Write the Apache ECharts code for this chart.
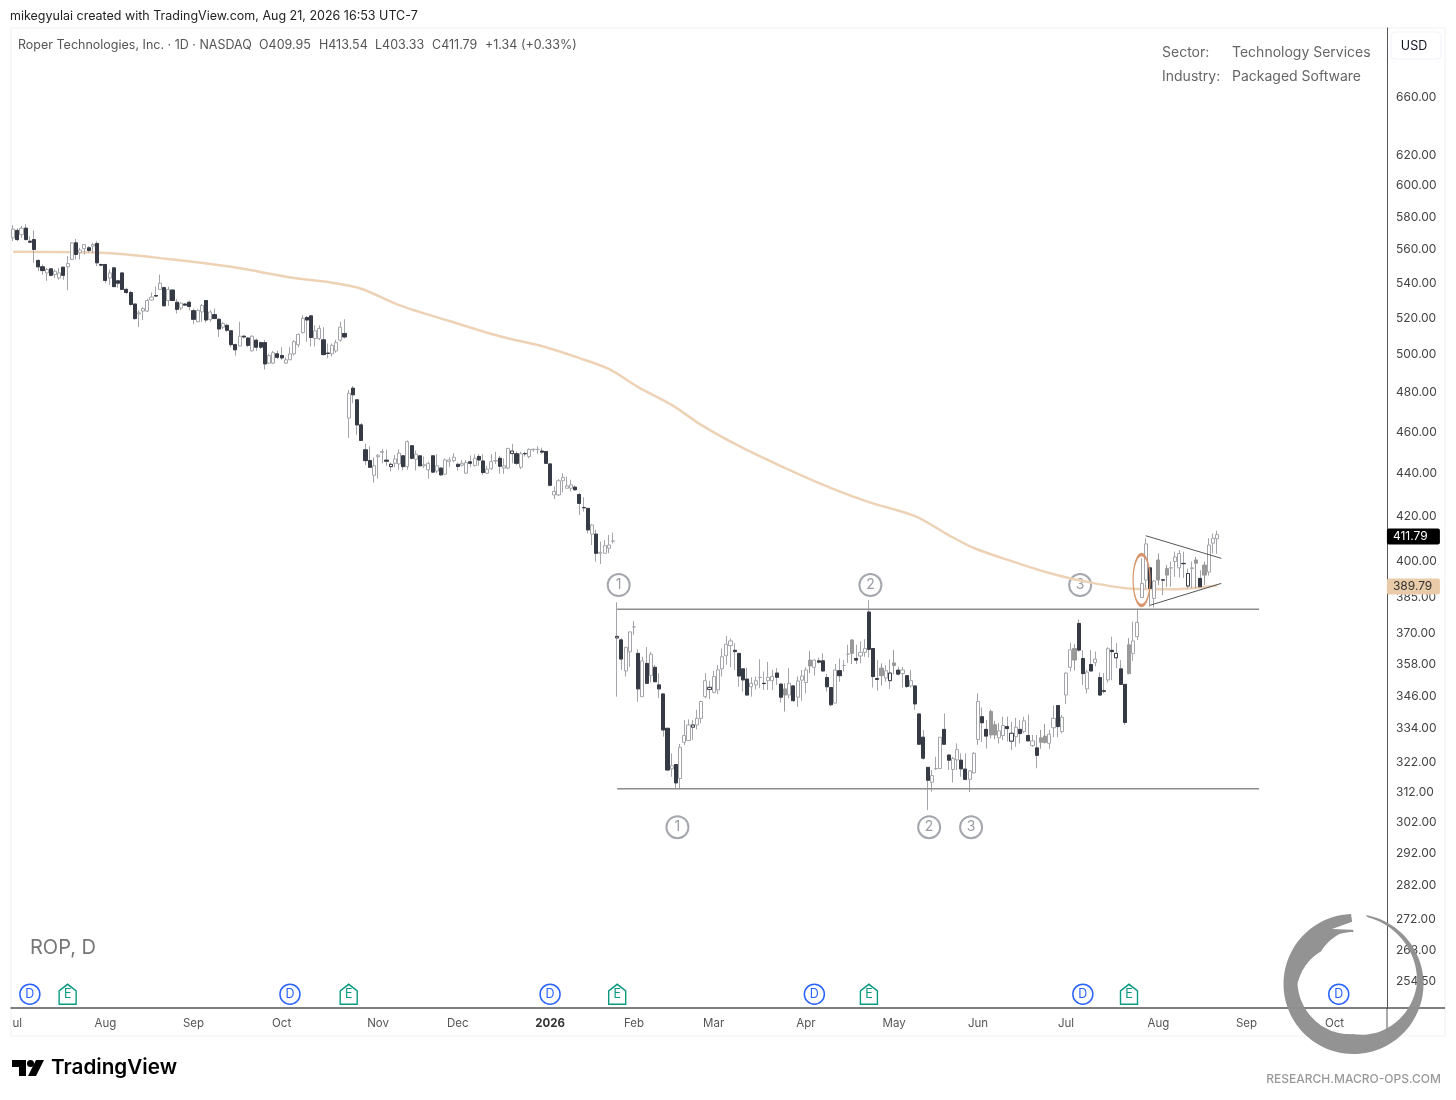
<!DOCTYPE html>
<html><head><meta charset="utf-8">
<style>html,body{margin:0;padding:0;background:#fff}#c{width:1456px;height:1100px}</style>
<script src="https://cdn.jsdelivr.net/npm/echarts@6/dist/echarts.min.js"></script>
</head><body><div id="c"></div>
<script>
// [open, close, low, high]
const barsSummer2025 = [
[567,572.4,565,575],[571.6,566,565,573],[569,573,567,574.4],[573,566,565.6,575.4],[565,564.4,564.4,568],
[566,560,552,571.6],[553.4,549.6,547,554],[549.6,547.4,545,551],[546,548,541.4,549],[548.4,544.6,544,549],
[545,547,543,548],[543,546,542,549],[549.4,544.6,542,549.4],[549.6,551.6,536,556],[554,564,554,564.5],
[564,557,554,566.4],[558,559.6,554,561],[560.4,563,557,563],[561,559.4,558,562],[562,563,558,564],
[563.6,552,550,565],[551,550.6,550,551.4],[551,541.6,540,551],[543,546,539,548],[549,538,538,549],
[541.4,540,537.4,542],[546,536.4,536,546],[536.4,534.6,533.6,537.4],[534.6,527.8,527,535.5],[528,519.8,519,528],
[522.4,523,515,524.4],[524,525.4,519,526.3],[524,530,523.5,531],[530.3,532,530,534.6],[532.8,532.6,532,538],
[536.4,540,536.4,545],[537.4,527,527,538],[530,536.4,527,538],[536,530,530,536.4],[529,525,522.6,531],
[525.7,528.5,524.4,529],[528,527.4,527,528.2],[529,526.6,524.4,530],[524.2,519.4,516.6,525.4],[518,524.4,518,525],
[523.5,527.2,518,528],[530,519,517.6,530],[519.2,523.5,518,524.4],[522,519.8,519.8,525.4],[519.4,514,509.6,519.8],
[515,517,514,518],[516,513.3,512.4,517],[513,505.4,504,513.3],[505.4,502.6,499.5,506],[504.6,510,504.6,518],
[510,509.6,508.7,510.5],[509,505,504,509.6],[502,510,501.7,510.5],[507.8,504,502,508.7],[506.5,504,503,507],
[506.5,495,492,508],[495.4,499.5,495,500.4],[495.4,501,495,502],[500.4,498.5,497.6,502.2],[499.5,498.2,497.2,504],
[495.4,497.2,495,498.5],[497.2,500.4,497.2,504],[500.4,507,499.5,507.8],[505.3,511,504,511.5],[512,520,511.5,521.6],
[520.4,519,507,521.3],[521.3,509.3,504.4,521.3],[508.7,513,504.4,516],[508.7,514.3,507.8,516],[508,500,499.5,515],
[500.8,500.6,498,506],[500.4,505,499,506],[502,506.5,501,508],[507.8,515,507,518],[511.5,509.6,508.7,519.4]];
const barsAutumn2025 = [
[466.9,479.6,457,481.3],[482.2,478.8,474.5,483.3],[476.2,463.5,458.6,476.2],[463.5,455.8,455.8,464.4],[451.2,446,443.9,454.2],
[446,442.8,442.8,452.9],[439,443.5,435.5,447.6],[447.9,448.6,437.4,449.1],[450,450.4,444.7,451.7],[446.2,445.7,443.5,451.2],
[443.1,444.2,440.8,445],[444.7,446.8,442.8,448.8],[444.4,449.6,441.6,451.5],[448.3,443.1,441.3,448.3],[443.1,455.2,441.6,455.8],
[453.2,447.1,446.6,453.2],[446.6,449.1,441.3,450.9],[448.3,443.5,443.2,448.3],[443.5,444,442.4,448],[441.6,444.7,437.4,445.5],
[448.3,440.5,440,448.3],[441,443.5,440,449.1],[442.4,439.2,438.7,442.8],[439.5,446.3,439.2,447],[445.5,446.3,442.8,447.6],
[446,447.6,445.2,449.6],[444.2,443.2,441.3,445],[443.8,444.7,443.2,446.3],[440,445,439.7,446.3],[445.4,444.7,442.8,448.5],
[443.6,447.1,443.2,449.1],[448,446.3,443.5,449.1],[445.8,440.3,439.2,449.1],[440,441.9,439.7,443.5],[442.1,445.5,441.6,449.1],
[445.8,446,444.4,450.3],[447.1,443.3,439.7,448.3],[442.4,443.5,439.7,447.1],[442.4,451.9,441.9,452.2],[449.4,450.6,444.7,454.2],
[449.3,444.7,443.9,450.3],[442.8,449.3,441.9,450.3],[449.4,449.3,448,450.3],[448,451.4,447.1,451.9],[451.2,451.5,450.3,451.9],
[451.4,451.4,449.3,453],[450.6,450.1,449.3,452.2],[450.4,444.7,444.7,450.4],[444.4,434.3,433.7,444.4],[429.8,431.4,427.9,433.7],
[429.8,436.4,429.3,437.2],[436.4,438,431,440],[432.9,434,432.9,438.4],[432.9,434.5,431.4,436.9],[433.4,432.2,431.8,434.2],
[430,425.9,420.6,430.8],[424,423.9,422.1,428.7],[423.6,413.9,412.4,423.6],[412,416.1,407.2,416.6],[412,403.6,399.9,414],
[403.6,404,398.9,408.7],[403.6,406.9,403.6,409.4],[405.8,407.2,403.6,411.6],[408.9,409,407.9,412.7]];
const barsWinterSpring2026 = [
[368.4,369,345.8,382.8],[367.6,360.1,355.9,368.3],[355.5,364.7,353.4,364.7],[362.9,370.8,357.1,370.8],[372.8,372.8,369.6,375.2],
[362.3,348.7,343.9,363.9],[345.8,359.4,345.8,361],[358.4,350.8,350.8,364.8],[353.7,362,351.1,362.9],[356.9,351.4,351.4,357.8],
[350.2,348.7,345.2,354.7],[346.8,333.6,331.2,346.8],[334.2,319.5,319.5,334.2],[319.9,321,317.2,325.3],[321.4,315.1,313.2,321.4],
[316.6,327.4,313.2,328.6],[329.2,331.6,328.2,337.2],[329.8,335.4,329.8,337.4],[334.6,335.4,330,337.2],[335.4,337.8,333.8,340.9],
[337.8,344,336,344.3],[345.8,351.8,345.2,354.7],[348.5,349.3,344.9,351.8],[347.4,353.4,347,355.6],[348.3,355.9,346.8,357.8],
[356.3,361,353.4,364.2],[361.4,365.9,357.9,369.2],[365.4,367.2,357,368.2],[363.5,363,355.9,366.3],[362.3,353.6,349.5,362.3],
[356.3,352.1,347.7,356.3],[352.4,346.4,346.4,356.7],[349.5,350.8,345.8,353.1],[350.2,351.8,348.5,353.4],[353,353.1,349,360],
[350.8,350.7,348.3,355.3],[351.8,353.1,348.3,359],[351.8,353.4,348.3,355.9],[354.7,353.1,350.2,356.6],[350.5,345.6,343.6,350.8],
[346.4,348.7,340.3,350.8],[346.4,350.8,345.2,356.6],[349.8,344.3,344,350.2],[345.6,351.7,342,353.4],[352,353.6,344.3,355.9],
[351.1,355.9,347,356.9],[357.4,359.7,354.7,363.2],[356.9,359.7,353.7,360],[359.4,358.9,358.4,360.7],[359.4,355.5,355.3,362.3],
[353,349.5,347.7,354.4],[349.2,342.8,342.2,349.2],[343.4,355.9,343.4,358.2],[355.6,353.7,351.4,360.3],[357.6,357.6,355.3,359.7],
[362,362,358.6,365.7],[362.3,367.6,358.2,367.9],[360.3,359.7,358.2,365.7],[361.3,362.7,358.4,367],[362.7,364.2,361,367.9],
[378.8,363.9,360.7,383.7],[364.2,353.4,349.2,364.2],[352.6,352.3,348,359.7],[353.7,356.6,350,358.4],[352.8,355.6,351.4,357.8],
[351.8,354.7,348.7,360],[357.6,358.6,354.2,363.6],[355.8,354.3,353.7,357.1],[354.5,355.9,349.2,357]];
const barsSummer2026 = [
[353.7,349.6,349,353.7],[349.8,351.8,349.2,355.9],[349.8,343.1,340.9,349.8],[339.4,328.5,328.5,339.4],[331,323.6,323.1,333.6],
[320.4,316,306,320.4],[315.3,317.6,312.1,319.5],[319.9,320,319.5,324.1],[320,331,320,331],[333.8,328.5,328.5,339.6],
[324.7,322.9,319.5,324.7],[319.7,323.5,315.2,324.1],[323,326.6,319.5,328.8],[322.9,319.9,317.2,325.3],[319.8,316.3,316,325.3],
[316.3,319.2,312,319.5],[318.5,325.3,318.3,325.8],[330.2,344,328.3,347],[338.4,336.2,329.3,341.8],[333.8,331.4,327,337.2],
[331.8,340.3,330.6,341],[331.8,335.5,330.3,336.8],[330.8,333.3,328.8,336.2],[331.6,335.2,330,338.4],[334.8,334.1,329.5,338.4],
[329.6,332.4,326.4,336.6],[331.2,334.6,327.6,338],[333.8,332.3,328.8,337.2],[333,336.9,332.4,338.4],[331.6,329.7,329.7,339.2],
[328,329.7,327.6,331.8],[327.2,324.6,320.1,331.8],[329.2,330.8,326.9,333.6],[329.1,331.4,328.8,335.8],[328.8,332.1,326.9,333.6],
[334.4,337.8,331,342.6],[342.5,334.8,331,342.5],[333,338.2,332.4,339],[346.4,354.7,343,355],[356.9,363.7,355.3,366.5],
[359.7,364.2,355.7,365.9],[374.2,363.6,363,375.8],[360.3,354.5,350.2,363.6],[348.7,355.1,347,356],[358,355.5,355.5,363.6],
[358.7,360.1,357.3,363],[353,346.4,346,354.9],[348,347.8,347,354.7],[352.1,364.1,351.1,364.7],[363.5,363,352,368.9],
[360.6,362.3,356.6,366.3],[356.3,350.4,350.2,359.7],[350.4,336.3,335.5,350.4],[354.5,365.7,354.2,368.3],[362.3,367.2,359.4,374.9],
[368.9,374.6,367.6,380.1],
[384.8,390.7,384.8,401.4],[392.1,407.7,388.6,410.2],[397.3,388.6,381,397.3],[384.4,391.7,380.7,392.1],[392.1,400.7,390,403.5],
[392.2,392.1,385.8,392.6],[394.2,397,389.3,398.5],[397.3,397.3,389.3,400],[400,402,393.5,404.3],[397.3,403.5,393.2,405],
[399.2,399.1,393,404.3],[389.6,394.9,388.6,397],[397,397.3,388.6,400],[399.3,400.7,388.6,402],[392.8,389.3,389.3,396.3],
[394.2,398.5,390,400],[395.5,407.2,394,410.2],[408,410.2,403.5,412.2],[409.95,411.79,403.33,413.54]];

// bar numbers with a grey-filled body and with a dark-outlined hollow body
const greyBodies = [184,190,200,207,210,233,234,245,246,253,266,273,275,282,284];
const darkOutlined = [90,119,144,162,166,209,238,263,280];

// 200-day average read at points along the curve: [bar number, price]
const movingAverage = [[0,558.6],[21,558],[37,554.3],[52,549.6],[67,543],[76,540.3],[83,536.8],[92,527.4],[104,518.4],[116,510],
[127,504],[135,498.1],[142,492.3],[149,482.8],[157,473.6],[164,463.5],[173,453.1],[183,443.4],[195,433],[204,426.5],[215,420.1],
[223,411.6],[229,405.9],[238,400.2],[247,395.1],[255,391.7],[267,388.4],[275,388.2],[281,388.7],[287,389.79]];

const priceTicks = [660,620,600,580,560,540,520,500,480,460,440,420,400,385,370,358,346,334,322,312,302,292,282,272,263,254.5];
const monthBars = [1,22,43,64,87,106,128,148,167,189,210,230,251,273,294,315];
const monthNames = ['ul','Aug','Sep','Oct','Nov','Dec','2026','Feb','Mar','Apr','May','Jun','Jul','Aug','Sep','Oct'];
const dividendBars = [4,66,128,191,255,316];
const earningsBars = [13,80,144,204,266];
const eventLevel = 250.9;
const resistance = [[144,380],[297,380]];
const support = [[144,313.1],[297,313.1]];
const wedgeUpper = [[270,411.3],[288,401.4]];
const wedgeLower = [[271,381.6],[288,390.7]];
const pivots = [[144,390,'1'],[204,390,'2'],[254,390,'3'],[158,300.4,'1'],[218,300.4,'2'],[228,300.4,'3']];
const ellipseAt = [[269,392.1]];
const lastClose = 411.79, lastAverage = 389.79;

const slotCount = 328;
const bars = [...barsSummer2025, ...barsAutumn2025, ...barsWinterSpring2026, ...barsSummer2026];
const categories = Array.from({length: slotCount}, (_, i) => String(i));

const DARK = '#363a45', WICK = '#a3a5aa', FONT = 'Inter, sans-serif';
const base = bars.map((b, i) => greyBodies.includes(i)
  ? {value: b, itemStyle: {color: '#999', color0: '#999', borderColor: '#999', borderColor0: '#999'}}
  : b);
const overlay = bars.map((b, i) => {
  if (darkOutlined.includes(i)) return {value: [b[0], b[1], Math.min(b[0], b[1]), Math.max(b[0], b[1])],
    itemStyle: {color: '#fff', color0: '#fff', borderColor: DARK, borderColor0: DARK}};
  if (b[1] < b[0]) return [b[0], b[1], b[1], b[0]];
  return [NaN, NaN, NaN, NaN];
});
const segLine = (name, data, color, width) => ({type: 'line', name, data, symbol: 'none', silent: true,
  lineStyle: {color, width}, z: 5});
const tag = (value, bg, fg, dy) => ({type: 'scatter', data: [[slotCount - 1, value]], symbolSize: 0, silent: true, z: 8,
  itemStyle: {opacity: 1},
  label: {show: true, position: 'right', distance: 1, offset: [1, dy], formatter: value.toFixed(2), color: fg, backgroundColor: bg, opacity: 1,
    padding: [2, 5, 2, 6], width: 42, align: 'left', borderRadius: 2, fontFamily: FONT, fontSize: 12}});
const eventSeries = (list, symbol, color, text, size) => ({type: 'scatter', data: list.map(i => [i, eventLevel]), symbol, symbolSize: size,
  silent: true, z: 6, itemStyle: {color: '#fff', borderColor: color, borderWidth: 1.5, opacity: 1},
  label: {show: true, position: 'inside', formatter: text, color, fontFamily: FONT, fontSize: 12.5}});

// ouroboros watermark outline
const ringCx = 1353.5, ringCy = 984, ringR = 70;
const thickness = d => d < 90 ? 1 + d / 16 : d < 180 ? 6.6 + (d - 90) / 90 * 13.4 : d < 270 ? 20 - (d - 180) / 90 * 6 : d < 315 ? 14 + (d - 270) / 45 * 10 : d < 345 ? 24 - (d - 315) / 30 * 6 : 18;
const ringPoint = (d, r) => { const a = d * Math.PI / 180; return [ringCx + r * Math.sin(a), ringCy - r * Math.cos(a)]; };
const ringPts = [];
for (let d = 10; d <= 360; d += 3) ringPts.push(ringPoint(d, ringR));
for (let d = 360; d >= 10; d -= 3) ringPts.push(ringPoint(d, ringR - thickness(d)));

const txt = (x, y, text, font, fill, align) => ({type: 'text', x, y, z: 20, silent: true,
  style: {text, font, fill, textAlign: align || 'left', textVerticalAlign: 'middle'}});
const rule = (x1, y1, x2, y2, stroke, lineWidth) => ({type: 'line', z: 3, silent: true, shape: {x1, y1, x2, y2}, style: {stroke, lineWidth}});

const chart = echarts.init(document.getElementById('c'), null, {renderer: 'canvas'});
chart.setOption({
  animation: false,
  backgroundColor: '#fff',
  grid: {left: 11, top: 28, width: 1376, height: 980, containLabel: false},
  xAxis: {type: 'category', data: categories, boundaryGap: true,
    axisLine: {onZero: false, lineStyle: {color: '#555', width: 1.5}}, axisTick: {show: false}, splitLine: {show: false},
    axisLabel: {margin: 10, hideOverlap: false, interval: i => monthBars.includes(i),
      formatter: (v, i) => { const k = monthBars.indexOf(i); const n = k < 0 ? '' : monthNames[k]; return n === '2026' ? '{y|2026}' : n; },
      color: '#555', fontFamily: FONT, fontSize: 11.5, rich: {y: {fontWeight: 700, color: '#333', fontFamily: FONT, fontSize: 11.5}}}},
  yAxis: {type: 'log', logBase: 10, position: 'right', min: 247.2, max: 711, scale: true,
    axisLine: {show: true, onZero: false, lineStyle: {color: '#555', width: 1}}, axisTick: {show: false}, minorTick: {show: false},
    splitLine: {show: false}, minorSplitLine: {show: false},
    axisLabel: {margin: 9, customValues: priceTicks, formatter: v => Number(v).toFixed(2), padding: [2, 0, 0, 0],
      color: '#444', fontFamily: FONT, fontSize: 12}},
  series: [
    {type: 'scatter', name: 'Pivots', data: pivots, symbol: 'circle', symbolSize: 22, symbolOffset: [1.5, 0], silent: true, z: 1,
      itemStyle: {color: '#fff', borderColor: '#a5a7ae', borderWidth: 2, opacity: 1},
      label: {show: true, position: 'inside', formatter: p => p.value[2], color: '#9a9ca3', fontFamily: FONT, fontSize: 14}},
    {type: 'line', name: 'MA', data: movingAverage, symbol: 'none', smooth: 0.3, silent: true, z: 2,
      lineStyle: {color: '#edd2b6', width: 2.5}},
    {type: 'candlestick', name: 'ROP wicks', data: base, barWidth: 3.6, large: false, silent: true, z: 3,
      itemStyle: {color: '#fff', color0: '#fff', borderColor: WICK, borderColor0: WICK, borderColorDoji: WICK, borderWidth: 1}},
    {type: 'candlestick', name: 'ROP bodies', data: overlay, barWidth: 3.6, large: false, silent: true, z: 4,
      itemStyle: {color: DARK, color0: DARK, borderColor: DARK, borderColor0: DARK, borderColorDoji: DARK, borderWidth: 1}},
    segLine('Resistance', resistance, '#8c8c8c', 1.5),
    segLine('Support', support, '#8c8c8c', 1.5),
    segLine('Wedge upper', wedgeUpper, '#555', 1),
    segLine('Wedge lower', wedgeLower, '#555', 1),
    {type: 'scatter', name: 'Ellipse', data: ellipseAt, symbol: 'circle', symbolSize: [17, 51], silent: true, z: 6,
      itemStyle: {color: 'rgba(0,0,0,0)', borderColor: '#d8956c', borderWidth: 2, opacity: 1}},
    eventSeries(dividendBars, 'circle', '#2962ff', 'D', 20),
    eventSeries(earningsBars, 'path://M0 6 L8 0 L16 6 L16 18 L0 18 Z', '#089981', 'E', [17, 20]),
    tag(lastClose, '#000', '#fff', 2),
    tag(lastAverage, '#e9cba9', '#333', 1)
  ],
  graphic: {elements: [
    {type: 'rect', z: 0, silent: true, shape: {x: 11, y: 28, width: 1434, height: 1008}, style: {fill: 'none', stroke: '#f1f1f1', lineWidth: 1}},
    rule(1387, 1008, 1387, 1036, '#555', 1),
    rule(1387, 1008, 1445, 1008, '#555', 1.5),
    txt(10, 16, 'mikegyulai created with TradingView.com, Aug 21, 2026 16:53 UTC-7', '12.5px ' + FONT, '#222'),
    txt(18, 45, 'Roper Technologies, Inc. · 1D · NASDAQ', '12.5px ' + FONT, '#555'),
    txt(259, 45, 'O409.95', '12.5px ' + FONT, '#555'),
    txt(319, 45, 'H413.54', '12.5px ' + FONT, '#555'),
    txt(375, 45, 'L403.33', '12.5px ' + FONT, '#555'),
    txt(432, 45, 'C411.79', '12.5px ' + FONT, '#555'),
    txt(485, 45, '+1.34 (+0.33%)', '12.5px ' + FONT, '#555'),
    txt(1162, 53, 'Sector:', '14px ' + FONT, '#666'),
    txt(1232, 53, 'Technology Services', '14px ' + FONT, '#666'),
    txt(1162, 77, 'Industry:', '14px ' + FONT, '#666'),
    txt(1232, 77, 'Packaged Software', '14px ' + FONT, '#666'),
    {type: 'rect', z: 20, silent: true, shape: {x: 1391, y: 32, width: 50, height: 27, r: 4}, style: {fill: '#fff', stroke: '#f0f3fa', lineWidth: 1}},
    txt(1414, 46, 'USD', '12.5px ' + FONT, '#131722', 'center'),
    txt(30, 948, 'ROP, D', '20px ' + FONT, '#777'),
    {type: 'polygon', z: 20, silent: true, shape: {points: [[12, 1060], [26, 1060], [26, 1076], [19, 1076], [19, 1067], [12, 1067]]}, style: {fill: '#000'}},
    {type: 'circle', z: 20, silent: true, shape: {cx: 30.5, cy: 1063.5, r: 3.5}, style: {fill: '#000'}},
    {type: 'polygon', z: 20, silent: true, shape: {points: [[36, 1060], [44, 1060], [36, 1076], [28, 1076]]}, style: {fill: '#000'}},
    txt(51, 1068, 'TradingView', '600 20.7px ' + FONT, '#000'),
    txt(1441, 1079, 'RESEARCH.MACRO-OPS.COM', '500 12px ' + FONT, '#999', 'right'),
    {type: 'polygon', z: 30, silent: true, shape: {points: ringPts}, style: {fill: '#8f8f8f', opacity: 0.97}},
    {type: 'polygon', z: 31, silent: true, shape: {points: [[1332, 929], [1357, 920], [1357, 930]]}, style: {fill: '#fff'}}
  ]}
});
</script>
</body></html>
